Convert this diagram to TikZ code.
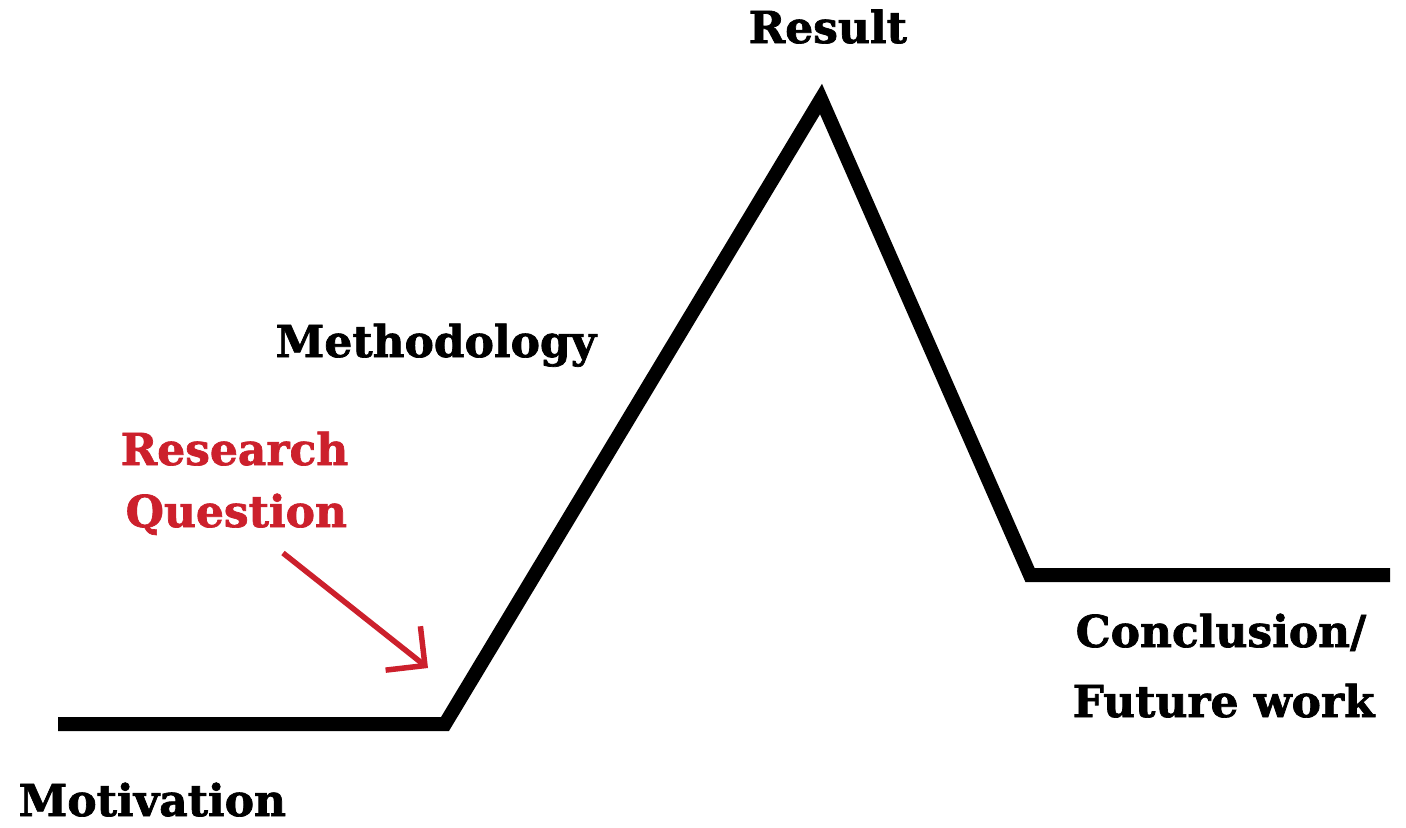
\documentclass[tikz,border=0pt]{standalone}
\usepackage{fontspec}
\setmainfont{DejaVu Serif}
\newfontfamily\heavyserif[FakeBold=1.6]{DejaVu Serif Bold}
\usetikzlibrary{arrows.meta}
\definecolor{rqred}{RGB}{204,32,44}
\begin{document}
\begin{tikzpicture}[x=0.01cm,y=-0.01cm,
  ridge/.style={line width=0.14cm, line join=miter, line cap=butt, black},
  label/.style={font=\fontsize{12.5}{14}\selectfont\heavyserif, inner sep=0pt, anchor=base west},
  rqlabel/.style={label, text=rqred},
  pointer/.style={rqred, line width=0.055cm, -{Straight Barb[length=0.28cm,width=0.56cm]}}]
  \useasboundingbox (0,0) rectangle (1406,827);

  % the path of the story: flat start, climb, peak, drop, flat end
  \coordinate (start) at (58,724);
  \coordinate (rise) at (445,724);
  \coordinate (peak) at (821,99);
  \coordinate (fall) at (1030,575);
  \coordinate (finish) at (1390,575);
  \draw[ridge] (start) -- (rise) -- (peak) -- (fall) -- (finish);

  % stage labels
  \node[label] (result) at (748,43) {Result};
  \node[label] (method) at (275,357) {Methodology};
  \node[rqlabel] (rq1) at (120,465) {Research};
  \node[rqlabel] (rq2) at (125,527) {Question};
  \node[label] (concl1) at (1075,647) {Conclusion/};
  \node[label] (concl2) at (1072,717) {Future work};
  \node[label] (motiv) at (18,816) {Motivation};

  % pointer from the research question to the start of the climb
  \coordinate (rqtail) at (283,553);
  \coordinate (rqtip) at (428,668);
  \draw[pointer] (rqtail) -- (rqtip);
\end{tikzpicture}
\end{document}
